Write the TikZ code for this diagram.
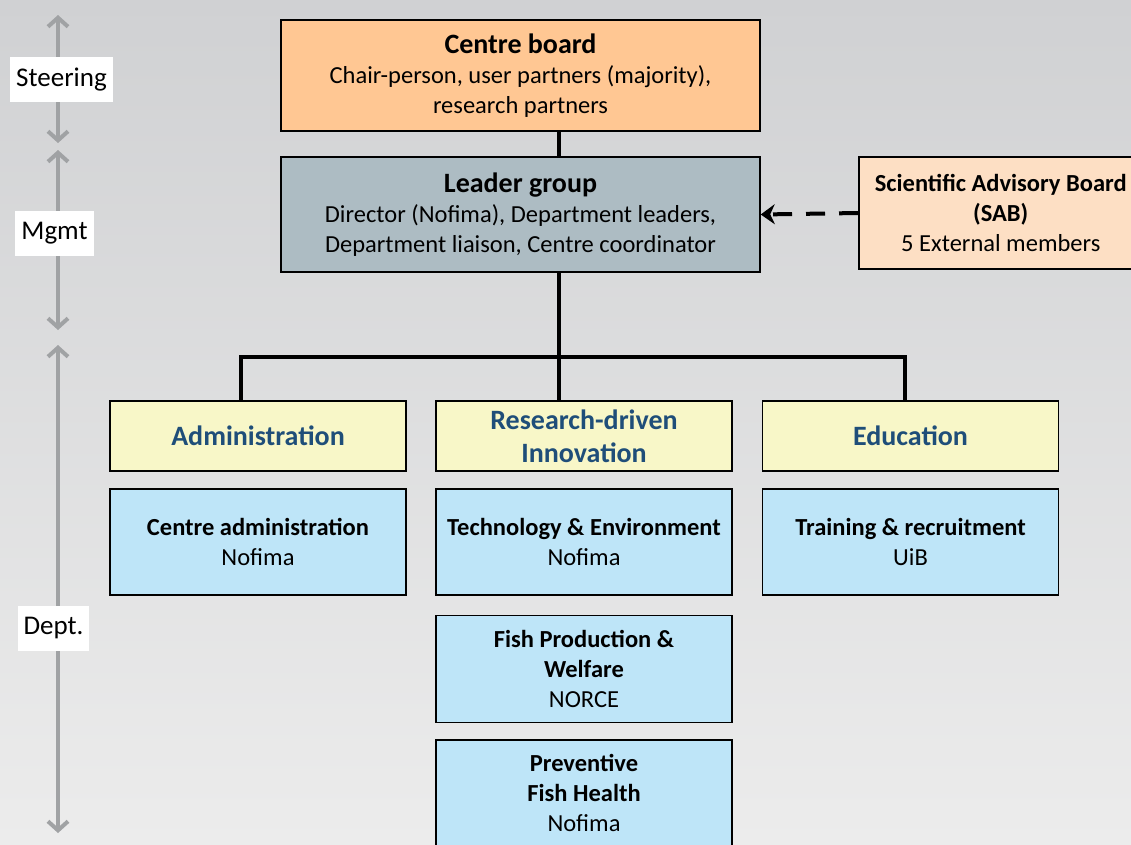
\documentclass[tikz,border=0pt]{standalone}
\usepackage{fontspec}
\setmainfont{Carlito}
\usepackage{tikz}
\usetikzlibrary{arrows.meta, calc, positioning}

\definecolor{bgtop}{HTML}{D0D1D3}
\definecolor{bgbot}{HTML}{ECECEC}
\definecolor{boardfill}{HTML}{FFC793}
\definecolor{leaderfill}{HTML}{ADBCC3}
\definecolor{sabfill}{HTML}{FDDFC4}
\definecolor{headfill}{HTML}{F8F7C8}
\definecolor{unitfill}{HTML}{BEE5F8}
\definecolor{headtext}{HTML}{1F4E79}
\definecolor{axisgray}{HTML}{A0A2A4}

\begin{document}
\begin{tikzpicture}[x=1pt, y=-1pt, node distance=16.5pt,
		                    orgbox/.style={draw=black, line width=1.5pt, align=center, inner sep=0pt,
		                                   node font=\fontsize{24.5pt}{30pt}\selectfont},
		                    headbox/.style={orgbox, fill=headfill, minimum width=296pt, minimum height=70pt,
		                                    text=headtext, node font=\fontsize{28pt}{33pt}\selectfont\bfseries},
		                    unitbox/.style={orgbox, fill=unitfill, minimum width=296pt, minimum height=106pt},
		                    levelarrow/.style={draw=axisgray, line width=4pt,
		                                       {Straight Barb[length=9pt, width=20pt]}-{Straight Barb[length=9pt, width=20pt]}},
		                    levellabel/.style={fill=white, minimum height=45pt, inner xsep=6pt,
		                                       node font=\fontsize{27pt}{30pt}\selectfont}]
		  \clip (0,0) rectangle (1131,844);
		  \shade[top color=bgtop, middle color=bgtop, bottom color=bgbot] (0,0) rectangle (1131,844);

		  % top of the organisation
		  \node[orgbox, fill=boardfill, minimum width=479pt, minimum height=111pt] (board) at (520.5,75.5)
		  	{\textbf{\fontsize{28pt}{30pt}\selectfont Centre board}\\ Chair-person, user partners (majority),\\ research partners};
		  \node[orgbox, fill=leaderfill, minimum width=479pt, minimum height=115pt] (leader) [below=24.5pt of board]
		  	{\textbf{\fontsize{28pt}{30pt}\selectfont Leader group}\\ Director (Nofima), Department leaders,\\ Department liaison, Centre coordinator};
		  \node[orgbox, fill=sabfill, minimum width=284pt, minimum height=112pt, anchor=west] (sab) at (858,213)
		  	{\textbf{Scientific Advisory Board}\\ \textbf{(SAB)}\\ 5 External members};

		  % departments
		  \node[headbox] (admin) at (258,436)   {Administration};
		  \node[headbox] (rdi)   at (584,436)   {Research-driven\\ Innovation};
		  \node[headbox] (edu)   at (910.5,436) {Education};

		  \node[unitbox] (cadmin) [below=of admin] {\textbf{Centre administration}\\ Nofima};
		  \node[unitbox] (tech)   [below=of rdi]   {\textbf{Technology \& Environment}\\ Nofima};
		  \node[unitbox] (train)  [below=of edu]   {\textbf{Training \& recruitment}\\ UiB};
		  \node[unitbox, minimum height=107pt] (fish) [below=19pt of tech] {\textbf{Fish Production \&}\\ \textbf{Welfare}\\ NORCE};
		  \node[unitbox] (prev)   [below=16pt of fish] {\textbf{Preventive}\\ \textbf{Fish Health}\\ Nofima};

		  % connectors
		  \coordinate (trunk) at (559,357);
		  \coordinate (busL)  at (241,357);
		  \coordinate (busR)  at (905,357);
		  \path[draw, line width=4pt]
		  	(board.south -| trunk) -- (leader.north -| trunk)
		  	(leader.south -| trunk) -- (rdi.north -| trunk)
		  	(admin.north -| busL) -- (busL) -- (busR) -- (edu.north -| busR);
		  \draw[line width=4pt, dash pattern=on 19pt off 14pt, -{Stealth[length=14pt, width=20pt]}]
		  	(sab.west) -- (leader.east);

		  % levels on the left
		  \coordinate (stT) at (58,15);  \coordinate (stB) at (58,143);
		  \coordinate (mgT) at (58,150); \coordinate (mgB) at (58,330);
		  \coordinate (dpT) at (58,345); \coordinate (dpB) at (58,833);
		  \draw[levelarrow] (stT) -- (stB);
		  \draw[levelarrow] (mgT) -- (mgB);
		  \draw[levelarrow] (dpT) -- (dpB);
		  \node[levellabel] (steer) at (61.5,79.5)  {Steering};
		  \node[levellabel] (mgmt)  at (54.5,233.5) {Mgmt};
		  \node[levellabel] (dept)  at (53.5,628.5) {Dept.};
		\end{tikzpicture}
\end{document}
